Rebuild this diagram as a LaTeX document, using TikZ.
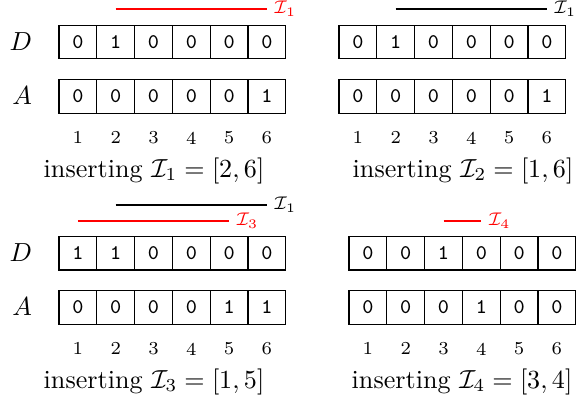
\documentclass[tikz,border=0pt]{standalone}
\usepackage{amsmath}
\usetikzlibrary{positioning}
\tikzset{
  cell/.style={draw, minimum width=14.48pt, minimum height=13pt, inner sep=0pt,
               font=\footnotesize\ttfamily},
  idx/.style={font=\scriptsize, inner sep=1pt},
  rowlbl/.style={font=\normalsize, inner sep=0pt},
  capt/.style={anchor=base},
  ivl/.style={semithick},
  newivl/.style={ivl, red},
  ivllbl/.style={right, font=\fontsize{6.8}{8}\selectfont, inner xsep=2.5pt,
                 inner ysep=0.3pt},
}

\begin{document}
\begin{tikzpicture}[x=0.383pt, y=-0.383pt, node distance=7.3pt]
  \useasboundingbox (0,0) rectangle (576,402);

  % inserting I_1
  \foreach \dv/\av [count=\i] in {0/0,1/0,0/0,0/0,0/0,0/1} {
    \node[cell] (p1d\i) at (40.1+37.8*\i, 42) {\dv};
    \node[cell, below=of p1d\i] (p1a\i) {\av};
    \node[idx, below=5.8pt of p1a\i] (p1n\i) {\i};
  }
  \node[rowlbl, left=10pt of p1d1] (p1D) {$D$};
  \node[rowlbl, left=10pt of p1a1] (p1A) {$A$};
  \coordinate (p1s) at (p1d2 |- 0,9);
  \coordinate (p1e) at (p1d6 |- 0,9);
  \draw[newivl] (p1s) -- (p1e) node[ivllbl] (p1l) {$\mathcal{I}_1$};
  \node[capt] (p1c) at (154,177) {inserting $\mathcal{I}_1=[2,6]$};

  % inserting I_2
  \foreach \dv/\av [count=\i] in {0/0,1/0,0/0,0/0,0/0,0/1} {
    \node[cell] (p2d\i) at (320.1+37.8*\i, 42) {\dv};
    \node[cell, below=of p2d\i] (p2a\i) {\av};
    \node[idx, below=5.8pt of p2a\i] (p2n\i) {\i};
  }
  \coordinate (p2s) at (p2d2 |- 0,9);
  \coordinate (p2e) at (p2d6 |- 0,9);
  \draw[ivl] (p2s) -- (p2e) node[ivllbl] (p2l) {$\mathcal{I}_1$};
  \node[capt] (p2c) at (463,177) {inserting $\mathcal{I}_2=[1,6]$};

  % inserting I_3
  \foreach \dv/\av [count=\i] in {1/0,1/0,0/0,0/0,0/1,0/1} {
    \node[cell] (p3d\i) at (40.1+37.8*\i, 253) {\dv};
    \node[cell, below=of p3d\i] (p3a\i) {\av};
    \node[idx, below=5.8pt of p3a\i] (p3n\i) {\i};
  }
  \node[rowlbl, left=10pt of p3d1] (p3D) {$D$};
  \node[rowlbl, left=10pt of p3a1] (p3A) {$A$};
  \coordinate (p3s) at (p3d2 |- 0,205);
  \coordinate (p3e) at (p3d6 |- 0,205);
  \draw[ivl] (p3s) -- (p3e) node[ivllbl] (p3l) {$\mathcal{I}_1$};
  \coordinate (p3t) at (p3d1 |- 0,221);
  \coordinate (p3u) at (p3d5 |- 0,221);
  \draw[newivl] (p3t) -- (p3u) node[ivllbl] (p3m) {$\mathcal{I}_3$};
  \node[capt] (p3c) at (154,388) {inserting $\mathcal{I}_3=[1,5]$};

  % inserting I_4
  \foreach \dv/\av [count=\i] in {0/0,0/0,1/0,0/1,0/0,0/0} {
    \node[cell] (p4d\i) at (330.1+37.8*\i, 253) {\dv};
    \node[cell, below=of p4d\i] (p4a\i) {\av};
    \node[idx, below=5.8pt of p4a\i] (p4n\i) {\i};
  }
  \coordinate (p4s) at (p4d3 |- 0,221);
  \coordinate (p4e) at (p4d4 |- 0,221);
  \draw[newivl] (p4s) -- (p4e) node[ivllbl] (p4l) {$\mathcal{I}_4$};
  \node[capt] (p4c) at (462,388) {inserting $\mathcal{I}_4=[3,4]$};
\end{tikzpicture}
\end{document}
